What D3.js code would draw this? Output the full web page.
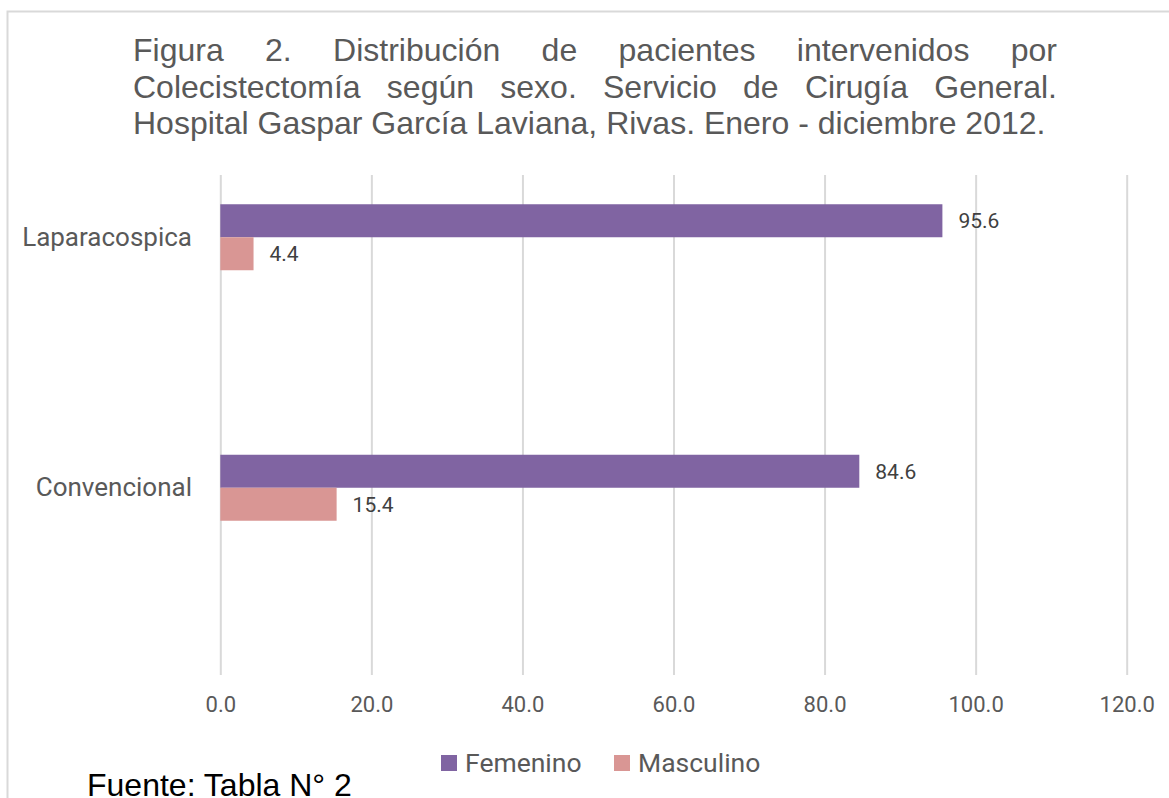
<!DOCTYPE html>
<html>
<head>
<meta charset="utf-8">
<script src="https://cdnjs.cloudflare.com/ajax/libs/d3/7.8.5/d3.min.js"></script>
<style>
  body { margin: 0; background: #fff; }
  .grid line { stroke: #d9d9d9; stroke-width: 2; }
  .grid path { display: none; }
  .lbl path { display: none; }
  .lbl text { fill: #595959; font-family: Roboto, sans-serif; }
</style>
</head>
<body>
<svg width="1169" height="798"></svg>
<script>
// chart data
var categories = ["Laparacospica", "Convencional"];
var series = ["Femenino", "Masculino"];
var femenino = [95.6, 84.6];
var masculino = [4.4, 15.4];
var xTicks = [0, 20, 40, 60, 80, 100, 120];
var colors = ["#8064a2", "#d99694"];
var titleLines = [
  "Figura 2. Distribución de pacientes intervenidos por",
  "Colecistectomía según sexo. Servicio de Cirugía General.",
  "Hospital Gaspar García Laviana, Rivas. Enero - diciembre 2012."
];

var svg = d3.select("svg");

// outer border of the chart area
svg.append("rect")
  .attr("x", 7.5).attr("y", 11.5)
  .attr("width", 1180).attr("height", 820)
  .attr("fill", "none")
  .attr("stroke", "#d9d9d9")
  .attr("stroke-width", 2);

// title, justified like the original
var title = svg.append("g")
  .attr("font-family", "'Liberation Sans', Arial, sans-serif")
  .attr("font-size", 32)
  .attr("fill", "#595959");
title.selectAll("text")
  .data(titleLines)
  .enter()
  .append("text")
  .attr("x", 133)
  .attr("y", function(d, i) { return 61 + i * 36.5; })
  .each(function(d, i) {
    var t = d3.select(this);
    if (i < titleLines.length - 1) {
      var words = d.split(" ");
      var node = t.node();
      // measure each word, then spread them over the full width
      var widths = words.map(function(w) {
        t.text(w);
        return node.getComputedTextLength();
      });
      var gap = (1057 - 133 - d3.sum(widths)) / (words.length - 1);
      t.text("");
      var pos = 133;
      words.forEach(function(w, j) {
        t.append("tspan").attr("x", pos).text(w);
        pos += widths[j] + gap;
      });
    } else {
      t.text(d);
    }
  });

var x = d3.scaleLinear().domain([0, 120]).range([220.3, 1126.7]);
var y = d3.scaleBand().domain(categories).range([112, 613]);
var yInner = d3.scaleBand().domain(series).range([-33, 33]);

// gridlines
svg.append("g")
  .attr("class", "grid")
  .attr("transform", "translate(0,675)")
  .call(d3.axisBottom(x).tickValues(xTicks).tickSize(-500).tickFormat(""));

// x tick labels
svg.append("g")
  .attr("class", "lbl")
  .attr("transform", "translate(0,675)")
  .call(d3.axisBottom(x).tickValues(xTicks).tickSize(0).tickPadding(21).tickFormat(d3.format(".1f")))
  .selectAll("text")
  .attr("font-size", 22);

// category labels
svg.append("g")
  .attr("class", "lbl")
  .attr("transform", "translate(220,0)")
  .call(d3.axisLeft(y).tickSize(0).tickPadding(28))
  .selectAll("text")
  .attr("font-size", 26);

var rows = categories.map(function(c, i) {
  return [{cat: c, s: series[0], v: femenino[i]}, {cat: c, s: series[1], v: masculino[i]}];
});
var flat = [].concat.apply([], rows);

svg.append("g")
  .selectAll("rect")
  .data(flat)
  .enter()
  .append("rect")
  .attr("x", x(0))
  .attr("y", function(d) { return y(d.cat) + y.bandwidth() / 2 + yInner(d.s); })
  .attr("width", function(d) { return x(d.v) - x(0); })
  .attr("height", yInner.bandwidth())
  .attr("fill", function(d) { return colors[series.indexOf(d.s)]; });

svg.append("g")
  .selectAll("text")
  .data(flat)
  .enter()
  .append("text")
  .attr("x", function(d) { return x(d.v) + 16; })
  .attr("y", function(d) { return y(d.cat) + y.bandwidth() / 2 + yInner(d.s) + yInner.bandwidth() / 2; })
  .attr("dy", "0.35em")
  .attr("font-family", "Roboto, sans-serif")
  .attr("font-size", 21)
  .attr("fill", "#404040")
  .text(function(d) { return d3.format(".1f")(d.v); });

// legend
var legendX = [441, 614];
var legend = svg.append("g");
series.forEach(function(s, i) {
  legend.append("rect")
    .attr("x", legendX[i]).attr("y", 755)
    .attr("width", 16).attr("height", 16)
    .attr("fill", colors[i]);
  legend.append("text")
    .attr("x", legendX[i] + 24).attr("y", 772)
    .attr("font-family", "Roboto, sans-serif")
    .attr("font-size", 26.5)
    .attr("fill", "#595959")
    .text(s);
});

// source note
svg.append("text")
  .attr("x", 87).attr("y", 796)
  .attr("font-family", "'Liberation Sans', Arial, sans-serif")
  .attr("font-size", 32)
  .attr("fill", "#000")
  .text("Fuente: Tabla N° 2");
</script>
</body>
</html>
